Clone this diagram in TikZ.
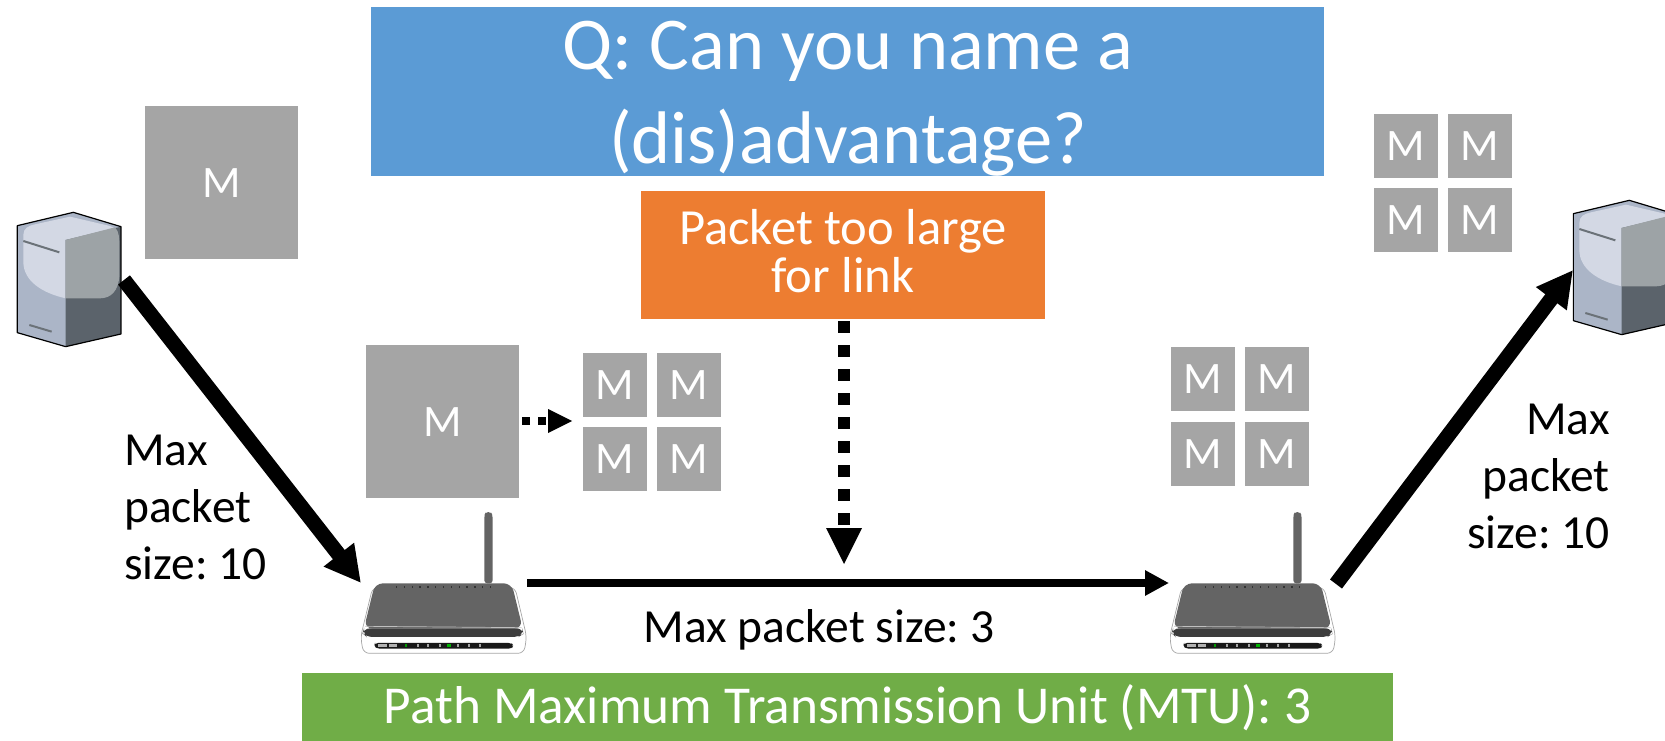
\documentclass[tikz,border=0pt]{standalone}
\usepackage{fontspec}
\setmainfont{Carlito}
\frenchspacing
\usetikzlibrary{arrows.meta}
\definecolor{qblue}{HTML}{5B9BD5}
\definecolor{qorange}{HTML}{ED7D31}
\definecolor{qgreen}{HTML}{70AD47}
\definecolor{qgrey}{HTML}{A5A5A5}
\definecolor{slate}{HTML}{ABB5C7}
\definecolor{pale}{HTML}{D3D8E4}
\definecolor{midg}{HTML}{9DA3A6}
\definecolor{darkg}{HTML}{5B636B}
\definecolor{bar}{HTML}{6B7278}
\definecolor{rtop}{HTML}{646464}
\definecolor{rfront}{HTML}{3C3C3C}
\tikzset{
  box/.style={fill=#1,draw=none,text=white,inner sep=0pt,align=center,anchor=north west},
  msg/.style={box=qgrey,minimum width=64pt,minimum height=64pt,font=\fontsize{45}{45}\selectfont},
  bigmsg/.style={box=qgrey,minimum width=153pt,minimum height=153pt,font=\fontsize{45}{45}\selectfont},
  lbl/.style={text=black,inner sep=0pt,font=\fontsize{47.5}{57}\selectfont},
  thickarrow/.style={line width=15pt,-{Triangle[length=36pt,width=36pt]}},
  thinarrow/.style={line width=8pt,-{Triangle[length=24pt,width=24pt]}},
  dotarrow/.style={line width=#1,dash pattern=on #1 off #1}
}
\newcommand{\serverpic}[2]{%
  \begin{scope}[shift={(#1,#2)},x=0.3333pt,y=-0.3333pt]
    \fill[slate] (52,107)--(220,67)--(363,110)--(363,432)--(197,470)--(52,428)--cycle;
    \fill[pale] (70,135) .. controls (70,115) and (85,107) .. (105,103) -- (210,80) -- (330,108) .. controls (345,112) and (360,125) .. (358,160) -- (358,260) .. controls (355,300) and (335,325) .. (300,325) -- (197,325) .. controls (130,310) and (70,275) .. (70,215) -- cycle;
    \fill[darkg] (197,150)--(363,110)--(363,432)--(197,470)--cycle;
    \fill[midg] (197,150)--(345,112) .. controls (358,125) and (358,145) .. (358,170) -- (358,260) .. controls (355,300) and (335,325) .. (300,325) -- (197,325) -- cycle;
    \draw[black,line width=1.2pt,line join=round] (52,107)--(220,67)--(363,110)--(363,432)--(197,470)--(52,428)--cycle;
    \draw[bar,line width=2pt] (70,153)--(178,187);
    \draw[bar,line width=2pt] (88,405)--(155,425);
  \end{scope}}
\newcommand{\routerpic}[2]{%
  \begin{scope}[shift={(#1,#2)},x=0.3333pt,y=-0.3333pt]
    \fill[white,draw=black!35,line width=0.7pt,rounded corners=6pt] (98,262)--(525,262)--(560,410)--(552,460)--(70,460)--(62,410)--cycle;
    \fill[rtop,rounded corners=3pt] (433,250)--(433,45)--(438,36)--(452,36)--(458,45)--(458,250)--cycle;
    \fill[rtop,rounded corners=8pt] (105,250)--(515,250)--(548,385)--(72,385)--cycle;
    \fill[rfront,rounded corners=6pt] (72,385)--(548,385)--(550,402)--(535,411)--(80,411)--(68,400)--cycle;
    \draw[black!25,line width=0.7pt] (75,379)--(545,383);
    \fill[black!90,rounded corners=3pt] (105,429)--(515,429)--(520,437)--(515,446)--(110,446)--(103,437)--cycle;
    \fill[white!70!black] (115,433) rectangle (142,440);
    \fill[white!70!black] (147,433) rectangle (172,440);
    \fill[green!60!black] (195,433) rectangle (200,440);
    \foreach \px in {230,262,296,352,384,416} \fill[white!65!black] (\px,433) rectangle (\px+6,440);
    \fill[green!70!black] (320,432) rectangle (332,441);
    \foreach \k in {0,...,12} \fill[black!80] (168+\k*23.5,257) rectangle (172+\k*23.5,264);
  \end{scope}}
\begin{document}
\begin{tikzpicture}[x=1pt,y=-1pt]
  \useasboundingbox (0,0) rectangle (1665,741);
  \clip (0,0) rectangle (1665,741);
  % devices
  \serverpic{0}{190}
  \serverpic{1556}{178}
  \routerpic{340}{500}
  \routerpic{1149}{500}
  % anchors of the devices
  \coordinate (srcout) at (124,280);
  \coordinate (r1in) at (361,583);
  \coordinate (r1out) at (527,583);
  \coordinate (r2in) at (1169,583);
  \coordinate (r2out) at (1336,584);
  \coordinate (dstin) at (1573,270);
  % boxes
  \node[box=qblue,minimum width=953pt,minimum height=169pt] (question) at (371,7) {};
  \node[text=white,inner sep=0pt,align=center,font=\fontsize{74.5}{93.5}\selectfont] (qtext) at (848,98.5) {Q: Can you name a\\(dis)advantage?};
  \node[box=qorange,minimum width=404pt,minimum height=128pt] (toolarge) at (641,191) {};
  \node[text=white,inner sep=0pt,align=center,font=\fontsize{50.6}{48}\selectfont] (ttext) at (843,251) {Packet too large\\for link};
  \node[box=qgreen,minimum width=1091pt,minimum height=68pt,font=\fontsize{53.3}{58}\selectfont] (mtu) at (302,673) {Path Maximum Transmission Unit (MTU): 3};
  % messages
  \node[bigmsg] (m0) at (145,106) {M};
  \node[bigmsg] (m1) at (366,345) {M};
  \node[msg] (a1) at (583,353) {M};
  \node[msg] (a2) at (657,353) {M};
  \node[msg] (a3) at (583,427) {M};
  \node[msg] (a4) at (657,427) {M};
  \node[msg] (b1) at (1171,347) {M};
  \node[msg] (b2) at (1245,347) {M};
  \node[msg] (b3) at (1171,422) {M};
  \node[msg] (b4) at (1245,422) {M};
  \node[msg] (c1) at (1374,114) {M};
  \node[msg] (c2) at (1448,114) {M};
  \node[msg] (c3) at (1374,188) {M};
  \node[msg] (c4) at (1448,188) {M};
  % connectors
  \draw[thickarrow] (srcout) -- (r1in);
  \draw[thinarrow] (r1out) -- (r2in);
  \draw[thickarrow] (r2out) -- (dstin);
  \coordinate (dropstart) at (844,321);
  \coordinate (dropend) at (844,528);
  \coordinate (droptip) at (844,564);
  \draw[dotarrow=12pt] (dropstart) -- (dropend);
  \fill[black] (droptip) -- (826,528) -- (862,528) -- cycle;
  \coordinate (fragstart) at (522,421);
  \coordinate (fragend) at (548,421);
  \coordinate (fragtip) at (572,421);
  \draw[dotarrow=8pt] (fragstart) -- (fragend);
  \fill[black] (fragtip) -- (548,409) -- (548,433) -- cycle;
  % labels
  \node[lbl,align=left,anchor=north west] (l1) at (124,435) {Max\\packet\\size: 10};
  \node[lbl,align=right,anchor=north east] (l2) at (1610,404) {Max\\packet\\size: 10};
  \node[lbl,anchor=center] (l3) at (819,630) {Max packet size: 3};
\end{tikzpicture}
\end{document}
